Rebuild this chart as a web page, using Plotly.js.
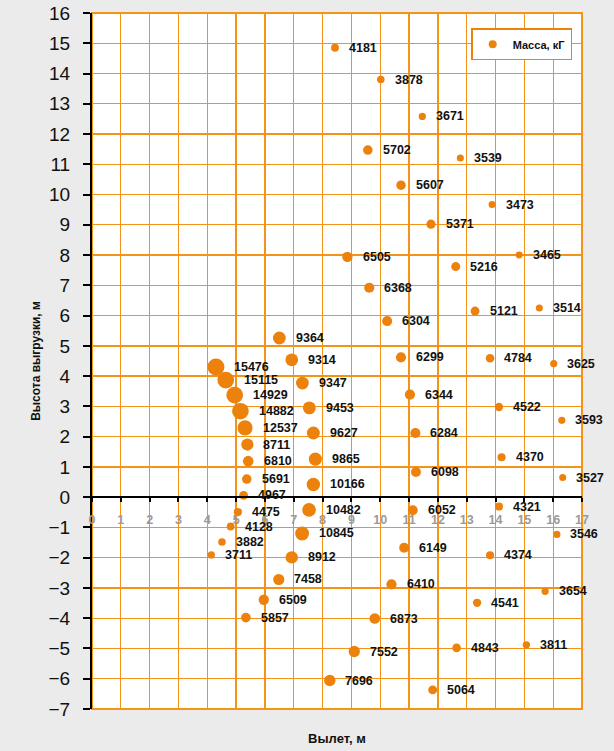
<!DOCTYPE html>
<html>
<head>
<meta charset="utf-8">
<script src="https://cdn.plot.ly/plotly-3.0.1.min.js"></script>
<style>
  html, body { margin: 0; padding: 0; background: #ebebeb; }
  #chart { width: 614px; height: 751px; }
</style>
</head>
<body>
<div id="chart"></div>
<script>
// Масса груза, кГ
const mass = [4181, 3878, 3671, 5702, 3539, 5607, 3473, 5371, 6505, 3465,
              5216, 6368, 5121, 3514, 6304, 9364, 9314, 6299, 4784, 3625,
              15476, 15115, 9347, 14929, 6344, 9453, 4522, 14882, 3593, 12537,
              9627, 6284, 8711, 4370, 9865, 6810, 6098, 3527, 5691, 10166,
              4967, 10482, 6052, 4321, 4475, 4128, 10845, 3546, 3882, 6149,
              3711, 8912, 4374, 7458, 6410, 3654, 6509, 4541, 5857, 6873,
              3811, 4843, 7552, 7696, 5064];
// Вылет, м
const reach = [8.43, 10.02, 11.46, 9.57, 12.78, 10.72, 13.88, 11.76, 8.86, 14.82,
               12.62, 9.62, 13.29, 15.52, 10.24, 6.50, 6.93, 10.72, 13.81, 16.02,
               4.30, 4.64, 7.30, 4.95, 11.03, 7.54, 14.12, 5.15, 16.30, 5.31,
               7.68, 11.22, 5.39, 14.21, 7.75, 5.42, 11.24, 16.33, 5.37, 7.68,
               5.26, 7.53, 11.13, 14.12, 5.06, 4.81, 7.29, 16.13, 4.51, 10.83,
               4.14, 6.93, 13.81, 6.48, 10.39, 15.72, 5.96, 13.36, 5.34, 9.81,
               15.07, 12.65, 9.10, 8.25, 11.82];
// Высота выгрузки, м
const height = [14.85, 13.80, 12.58, 11.47, 11.21, 10.31, 9.67, 9.02, 7.94, 8.00,
                7.62, 6.92, 6.15, 6.25, 5.82, 5.26, 4.54, 4.62, 4.59, 4.41,
                4.30, 3.87, 3.77, 3.37, 3.39, 2.95, 2.98, 2.84, 2.54, 2.29,
                2.12, 2.12, 1.74, 1.32, 1.26, 1.19, 0.83, 0.65, 0.60, 0.42,
                0.06, -0.42, -0.43, -0.31, -0.49, -0.97, -1.20, -1.23, -1.48, -1.67,
                -1.91, -1.99, -1.92, -2.72, -2.88, -3.11, -3.39, -3.49, -3.98, -4.01,
                -4.88, -4.98, -5.10, -6.06, -6.37];

const seriesName = 'Масса, кГ';
const xTitle = 'Вылет, м';
const yTitle = 'Высота выгрузки, м';
const xTickVals = [0,1,2,3,4,5,6,7,8,9,10,11,12,13,14,15,16,17];
const yTickVals = [-7,-6,-5,-4,-3,-2,-1,0,1,2,3,4,5,6,7,8,9,10,11,12,13,14,15,16];

const ORANGE = '#ec820c';
const GRID = '#f39418';
const FONT = 'Arial, "Liberation Sans", sans-serif';

// bubble diameter grows with the square root of the mass
const diam = mass.map(m => 0.1527 * Math.sqrt(m) - 2);

const bubbles = {
  type: 'scatter', mode: 'markers',
  x: reach, y: height, xaxis: 'x', yaxis: 'y',
  name: seriesName, showlegend: false,
  marker: { size: diam, sizemode: 'diameter', color: ORANGE, line: { width: 0 }, opacity: 1 },
  hoverinfo: 'x+y+text', text: mass.map(String)
};
const legendItem = {
  type: 'scatter', mode: 'markers', x: [null], y: [null], xaxis: 'x2', yaxis: 'y',
  name: seriesName, showlegend: true,
  marker: { size: 8, color: ORANGE }
};

const labels = mass.map((m, i) => ({
  x: reach[i], y: height[i], xref: 'x', yref: 'y',
  text: '<b>' + m + '</b>', showarrow: false,
  xanchor: 'left', yanchor: 'middle',
  xshift: diam[i] / 2 + 8, yshift: 0,
  font: { family: FONT, size: 12.5, color: '#111' }
}));

const layout = {
  width: 614, height: 751,
  margin: { l: 92, r: 32, t: 13, b: 42, pad: 0 },
  paper_bgcolor: '#ebebeb', plot_bgcolor: '#ffffff',
  font: { family: FONT, color: '#000' },
  showlegend: true,
  legend: {
    x: 0.98, xanchor: 'right', y: 0.978, yanchor: 'top',
    bgcolor: '#ffffff', bordercolor: ORANGE, borderwidth: 1.5,
    font: { family: FONT, size: 11, color: '#111', weight: 'bold' },
    itemwidth: 30, tracegroupgap: 0
  },
  xaxis: {
    range: [0, 17], tickvals: xTickVals, showgrid: true, gridcolor: GRID, gridwidth: 1.3,
    showticklabels: false, ticks: '', showline: false, zeroline: false, fixedrange: true,
    anchor: 'y',
    title: { text: xTitle, font: { family: FONT, size: 13, color: '#111', weight: 'bold' }, standoff: 24 }
  },
  xaxis2: {
    overlaying: 'x', anchor: 'free', position: 7 / 23, side: 'bottom',
    range: [0, 17], tickvals: xTickVals, showgrid: false, zeroline: false, fixedrange: true,
    showline: true, linecolor: '#000', linewidth: 2,
    ticks: 'outside', ticklen: 4, tickwidth: 2, tickcolor: '#000',
    ticklabelstandoff: 7,
    tickfont: { family: FONT, size: 12.5, color: '#9a9a9a', weight: 'bold' }
  },
  yaxis: {
    range: [-7, 16], tickvals: yTickVals, showgrid: true, gridcolor: GRID, gridwidth: 1.3,
    zeroline: false, fixedrange: true, automargin: 'left',
    showline: true, linecolor: '#000', linewidth: 2,
    ticks: 'outside', ticklen: 7, tickwidth: 2, tickcolor: '#000',
    ticklabelstandoff: 9,
    tickfont: { family: FONT, size: 19, color: '#111' },
    title: { text: yTitle, font: { family: FONT, size: 12, color: '#111', weight: 'bold' }, standoff: 5 }
  },
  shapes: [{
    type: 'rect', xref: 'paper', yref: 'paper', x0: 0, x1: 1, y0: 0, y1: 1,
    line: { color: GRID, width: 2 }, fillcolor: 'rgba(0,0,0,0)', layer: 'below'
  }],
  annotations: labels
};

Plotly.newPlot('chart', [bubbles, legendItem], layout, { displayModeBar: false, staticPlot: true });
</script>
</body>
</html>
